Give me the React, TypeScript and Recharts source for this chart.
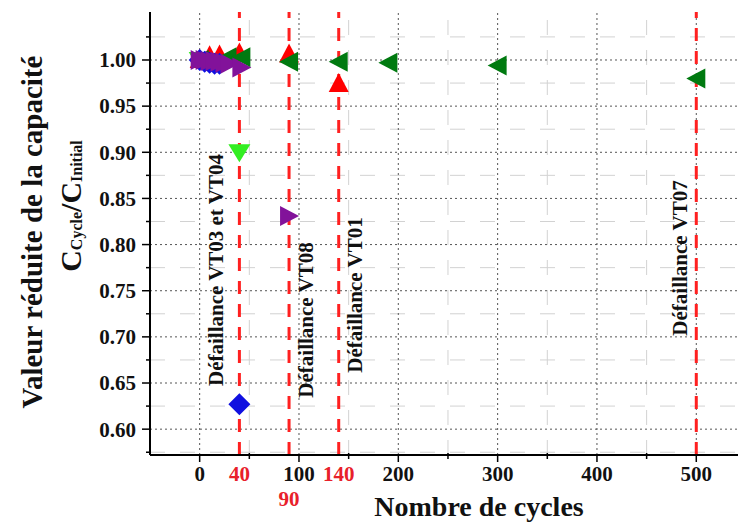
import React from 'react';
import {
  ScatterChart,
  Scatter,
  XAxis,
  YAxis,
  ReferenceLine,
} from 'recharts';

// cycles / reduced capacity per cell
const vt01Cycles = [0, 10, 20, 40, 90, 140];
const vt01Values = [1.0, 1.004, 1.005, 1.007, 1.006, 0.974];

const vt07Cycles = [0, 28, 42, 90, 140, 190, 300, 500];
const vt07Values = [1.0, 1.003, 1.003, 0.998, 0.998, 0.997, 0.994, 0.98];

const vt08Cycles = [0, 5, 10, 15, 20, 25, 30, 42, 90];
const vt08Values = [1.0, 1.0, 0.999, 0.999, 0.998, 0.997, 0.996, 0.992, 0.831];

const vt03Cycles = [0, 5, 10, 15, 20, 40];
const vt03Values = [1.0, 0.998, 0.997, 0.996, 0.996, 0.627];

const vt04Cycles = [0, 40];
const vt04Values = [1.0, 0.9];

const failureCycles = [40, 90, 140, 500];
const failureLabels = ['Défaillance VT03 et VT04', 'Défaillance VT08', 'Défaillance VT01', 'Défaillance VT07'];

const xMajor = [0, 100, 200, 300, 400, 500];
const xMinor = [50, 150, 250, 350, 450];
const xRed = [40, 90, 140];
const yMajor = [0.6, 0.65, 0.7, 0.75, 0.8, 0.85, 0.9, 0.95, 1.0];
const yMinor = [0.575, 0.625, 0.675, 0.725, 0.775, 0.825, 0.875, 0.925, 0.975, 1.025];

const FONT = '"Liberation Serif", "Times New Roman", serif';

const toPoints = (xs: number[], ys: number[]) => xs.map((x, i) => ({ x, y: ys[i] }));

const triUp = (color: string) => (p: any) => {
  const { cx, cy } = p;
  return <polygon points={`${cx},${cy - 11} ${cx + 10},${cy + 8} ${cx - 10},${cy + 8}`} fill={color} />;
};
const triDown = (color: string) => (p: any) => {
  const { cx, cy } = p;
  return <polygon points={`${cx - 11},${cy - 8} ${cx + 11},${cy - 8} ${cx},${cy + 10}`} fill={color} />;
};
const triLeft = (color: string) => (p: any) => {
  const { cx, cy } = p;
  return <polygon points={`${cx - 10},${cy} ${cx + 9},${cy - 10} ${cx + 9},${cy + 10}`} fill={color} />;
};
const triRight = (color: string) => (p: any) => {
  const { cx, cy } = p;
  return <polygon points={`${cx + 10},${cy} ${cx - 9},${cy - 10} ${cx - 9},${cy + 10}`} fill={color} />;
};
const diamond = (color: string) => (p: any) => {
  const { cx, cy } = p;
  return <polygon points={`${cx},${cy - 11} ${cx + 11},${cy} ${cx},${cy + 11} ${cx - 11},${cy}`} fill={color} />;
};

const XTick = ({ x, y, payload }: any) => {
  const v = payload.value;
  if (xMinor.includes(v)) {
    return <line x1={x} x2={x} y1={y - 2} y2={y + 4} stroke="#000" strokeWidth={1.5} />;
  }
  const red = xRed.includes(v);
  return (
    <g>
      {!red && <line x1={x} x2={x} y1={y} y2={y + 7} stroke="#000" strokeWidth={1.5} />}
      <text
        x={x}
        y={y + (v === 90 ? 51 : 26)}
        textAnchor="middle"
        fontFamily={FONT}
        fontWeight="bold"
        fontSize={21}
        fill={red ? '#e8202a' : '#111'}
      >
        {v}
      </text>
    </g>
  );
};

const YTick = ({ x, y, payload }: any) => {
  const v = payload.value;
  if (yMinor.some((m) => Math.abs(m - v) < 1e-6)) {
    return <line x1={x - 4} x2={x} y1={y} y2={y} stroke="#000" strokeWidth={1.5} />;
  }
  return (
    <g>
      <line x1={x - 8} x2={x} y1={y} y2={y} stroke="#000" strokeWidth={1.5} />
      <text x={x - 14} y={y} dy="0.35em" textAnchor="end" fontFamily={FONT} fontWeight="bold" fontSize={21} fill="#111">
        {v.toFixed(2)}
      </text>
    </g>
  );
};

const failureLabel = (text: string, dx: number, cy: number) => (props: any) => {
  const vb = props.viewBox || {};
  const x = (vb.x || 0) + dx;
  return (
    <text
      transform={`translate(${x}, ${cy}) rotate(-90)`}
      textAnchor="middle"
      dominantBaseline="central"
      fontFamily={FONT}
      fontWeight="bold"
      fontSize={21}
      fill="#111"
    >
      {text}
    </text>
  );
};

const labelOffsets = [-23, 17, 16, -16];
const labelCenters = [270, 320, 295, 258];

export default function App() {
  return (
    <div style={{ position: 'absolute', left: 0, top: 0, width: 738, height: 524, background: '#fff' }}>
      <ScatterChart width={738} height={524} margin={{ top: 12, right: 0, left: 0, bottom: 0 }}>
        <XAxis
          type="number"
          dataKey="x"
          domain={[-50, 542]}
          allowDataOverflow
          ticks={[...xMajor, ...xMinor, ...xRed]}
          interval={0}
          height={69}
          tickSize={0}
          tickMargin={0}
          tick={<XTick />}
          tickLine={false}
          axisLine={{ stroke: '#000', strokeWidth: 2 }}
        />
        <YAxis
          type="number"
          dataKey="y"
          domain={[0.572, 1.052]}
          allowDataOverflow
          ticks={[...yMajor, ...yMinor]}
          interval={0}
          width={150}
          tickSize={0}
          tickMargin={0}
          tick={<YTick />}
          tickLine={false}
          axisLine={{ stroke: '#000', strokeWidth: 2 }}
        />
        {/* grid: light dashed minor lines, dotted major lines */}
        {yMinor.map((v) => (
          <ReferenceLine key={`ym${v}`} y={v} stroke="#d2d2d2" strokeDasharray="15 15" />
        ))}
        {xMinor.map((v) => (
          <ReferenceLine key={`xm${v}`} x={v} stroke="#d2d2d2" strokeDasharray="15 15" />
        ))}
        {yMajor.map((v) => (
          <ReferenceLine key={`yM${v}`} y={v} stroke="#555" strokeDasharray="2 3" />
        ))}
        {xMajor.map((v) => (
          <ReferenceLine key={`xM${v}`} x={v} stroke="#555" strokeDasharray="2 3" />
        ))}
        <Scatter data={toPoints(vt04Cycles, vt04Values)} shape={triDown('#33ee22')} isAnimationActive={false} />
        <Scatter data={toPoints(vt01Cycles, vt01Values)} shape={triUp('#ff0000')} isAnimationActive={false} />
        <Scatter data={toPoints(vt07Cycles, vt07Values)} shape={triLeft('#007a10')} isAnimationActive={false} />
        <Scatter data={toPoints(vt03Cycles, vt03Values)} shape={diamond('#1010e0')} isAnimationActive={false} />
        <Scatter data={toPoints(vt08Cycles, vt08Values)} shape={triRight('#82129a')} isAnimationActive={false} />
        {failureCycles.map((c, i) => (
          <ReferenceLine
            key={c}
            x={c}
            stroke="#ff2020"
            strokeWidth={3}
            strokeDasharray="13 10"
            label={failureLabel(failureLabels[i], labelOffsets[i], labelCenters[i])}
          />
        ))}
      </ScatterChart>
      <svg
        width={738}
        height={524}
        style={{ position: 'absolute', left: 0, top: 0, pointerEvents: 'none' }}
      >
        <text
          transform="translate(32, 232) rotate(-90)"
          textAnchor="middle"
          dominantBaseline="central"
          fontFamily={FONT}
          fontWeight="bold"
          fontSize={29}
          fill="#111"
        >
          Valeur réduite de la capacité
        </text>
        <text
          transform="translate(70, 206) rotate(-90)"
          textAnchor="middle"
          dominantBaseline="central"
          fontFamily={FONT}
          fontWeight="bold"
          fontSize={30}
          fill="#111"
        >
          C<tspan fontSize={16} dy={6}>Cycle</tspan>
          <tspan dy={-6}>/C</tspan>
          <tspan fontSize={16} dy={6}>Initial</tspan>
        </text>
        <text x={479} y={516} textAnchor="middle" fontFamily={FONT} fontWeight="bold" fontSize={28} fill="#111">
          Nombre de cycles
        </text>
      </svg>
    </div>
  );
}
